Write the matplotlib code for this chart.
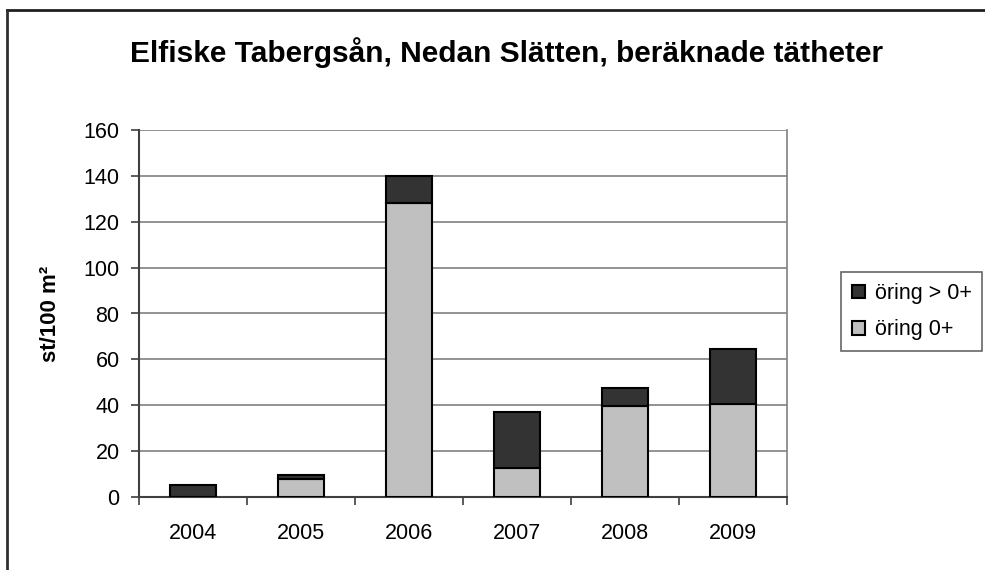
import matplotlib.pyplot as plt
from matplotlib.lines import Line2D

plt.rcParams['font.family'] = ['Liberation Sans', 'DejaVu Sans']

years = ["2004", "2005", "2006", "2007", "2008", "2009"]
oring_0 = [0, 8, 128, 12.6, 39.7, 40.5]
oring_total = [5.2, 9.6, 140, 37, 47.7, 64.5]
oring_older = [t - y for t, y in zip(oring_total, oring_0)]

fig = plt.figure(figsize=(9.85, 5.70), dpi=100)
ax = fig.add_axes([0.1411, 0.128, 0.658, 0.644])

x = list(range(len(years)))
w = 0.43
b1 = ax.bar(x, oring_0, width=w, color="#c0c0c0", edgecolor="black",
            linewidth=1.5, label="öring 0+", zorder=3)
b2 = ax.bar(x, oring_older, bottom=oring_0, width=w, color="#333333",
            edgecolor="black", linewidth=1.5, label="öring > 0+", zorder=3)

ax.set_xlim(-0.5, len(years) - 0.5)
ax.set_ylim(0, 160)
ax.set_yticks(range(0, 161, 20))
ax.yaxis.grid(True, color="#808080", linewidth=1.2, zorder=0)
ax.set_xticks(x)
ax.set_xticklabels(years, fontsize=15.5)
ax.set_xticks([i + 0.5 for i in range(-1, len(years))], minor=True)
ax.tick_params(axis="x", which="major", length=0, pad=19)
ax.tick_params(axis="x", which="minor", length=6, width=1.2, color="#404040")
ax.tick_params(axis="y", length=6, width=1.2, color="#404040", labelsize=15.5, pad=8)

for side in ["left", "bottom"]:
    ax.spines[side].set_color("#404040")
    ax.spines[side].set_linewidth(1.5)
ax.spines["top"].set_visible(False)
ax.spines["right"].set_color("#808080")
ax.spines["right"].set_linewidth(1.2)

ax.set_ylabel("st/100 m²", fontsize=16, fontweight="bold", labelpad=16)

fig.text(0.514, 0.908, "Elfiske Tabergsån, Nedan Slätten, beräknade tätheter",
         ha="center", va="center", fontsize=21.5, fontweight="bold")

leg = fig.legend([b2, b1], ["öring > 0+", "öring 0+"], loc="upper left",
                 bbox_to_anchor=(0.854, 0.522), fontsize=15.5, frameon=True,
                 fancybox=False, handlelength=0.6, handleheight=0.6,
                 handletextpad=0.45, borderpad=0.5, labelspacing=0.7,
                 borderaxespad=0)
leg.get_frame().set_edgecolor("#404040")
leg.get_frame().set_linewidth(1.2)

# outer chart border (top and left edges visible)
fig.add_artist(Line2D([0.0075, 1.0], [0.982, 0.982], color="#202020", linewidth=2))
fig.add_artist(Line2D([0.0075, 0.0075], [0.0, 0.982], color="#303030", linewidth=2))

fig.savefig("out.png", dpi=100)
